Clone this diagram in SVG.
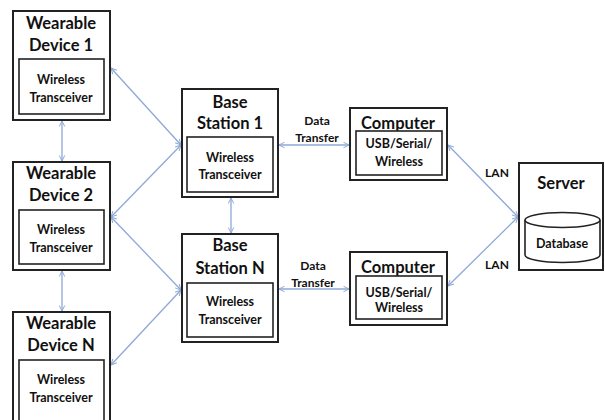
<svg xmlns="http://www.w3.org/2000/svg" width="605" height="420" viewBox="0 0 605 420">
<style>
.outer{fill:#fff;stroke:#222;stroke-width:2}
.inner{fill:#fff;stroke:#222;stroke-width:1.6}
.t{font-family:Lato,"Liberation Sans",sans-serif;font-weight:bold;fill:#111;text-anchor:middle;dominant-baseline:central}
.big{font-size:16.5px}
.sm{font-size:12.5px}
.lbl{font-size:12px}
.conn{stroke:#8ea8d8;stroke-width:1.3;fill:none;marker-start:url(#ah);marker-end:url(#ah)}
</style>
<defs>
<marker id="ah" viewBox="0 0 10 10" refX="9" refY="5" markerWidth="7" markerHeight="7" orient="auto-start-reverse" markerUnits="userSpaceOnUse">
<path d="M1,1 L9,5 L1,9" fill="none" stroke="#8ea8d8" stroke-width="1.4"/>
</marker>
</defs>
<rect width="605" height="420" fill="#fff"/>
<g id="connectors">
<line class="conn" x1="62" y1="121" x2="62" y2="161"/>
<line class="conn" x1="62" y1="271" x2="62" y2="311"/>
<line class="conn" x1="231" y1="198" x2="231" y2="233"/>
<line class="conn" x1="111" y1="68" x2="181" y2="145"/>
<line class="conn" x1="111" y1="217" x2="181" y2="145"/>
<line class="conn" x1="111" y1="217" x2="181" y2="290"/>
<line class="conn" x1="111" y1="365" x2="181" y2="290"/>
<line class="conn" x1="279" y1="145" x2="349" y2="145"/>
<line class="conn" x1="279" y1="289" x2="349" y2="289"/>
<line class="conn" x1="448" y1="145" x2="518" y2="217"/>
<line class="conn" x1="448" y1="286" x2="518" y2="217"/>
<text class="t lbl" x="317" y="120">Data</text>
<text class="t lbl" x="317" y="137">Transfer</text>
<text class="t lbl" x="313" y="265">Data</text>
<text class="t lbl" x="313" y="282">Transfer</text>
<text class="t lbl" x="497" y="172">LAN</text>
<text class="t lbl" x="497" y="264">LAN</text>
</g>
<g id="wearable1">
<rect class="outer" x="13" y="11" width="97" height="109"/>
<text class="t big" x="61" y="23">Wearable</text>
<text class="t big" x="61" y="45">Device 1</text>
<rect class="inner" x="19" y="59" width="85" height="55"/>
<text class="t sm" x="61" y="79">Wireless</text>
<text class="t sm" x="61" y="97">Transceiver</text>
</g>
<g id="wearable2">
<rect class="outer" x="13" y="162" width="97" height="108"/>
<text class="t big" x="61" y="173">Wearable</text>
<text class="t big" x="61" y="195">Device 2</text>
<rect class="inner" x="19" y="210" width="85" height="54"/>
<text class="t sm" x="61" y="229">Wireless</text>
<text class="t sm" x="61" y="247">Transceiver</text>
</g>
<g id="wearableN">
<rect class="outer" x="13" y="312" width="97" height="115"/>
<text class="t big" x="61" y="323">Wearable</text>
<text class="t big" x="61" y="345">Device N</text>
<rect class="inner" x="19" y="360" width="85" height="64"/>
<text class="t sm" x="61" y="379">Wireless</text>
<text class="t sm" x="61" y="397">Transceiver</text>
</g>
<g id="base1">
<rect class="outer" x="182" y="89" width="96" height="108"/>
<text class="t big" x="230" y="102">Base</text>
<text class="t big" x="230" y="123">Station 1</text>
<rect class="inner" x="187" y="137" width="86" height="55"/>
<text class="t sm" x="230" y="157">Wireless</text>
<text class="t sm" x="230" y="174">Transceiver</text>
</g>
<g id="baseN">
<rect class="outer" x="182" y="234" width="96" height="108"/>
<text class="t big" x="230" y="245">Base</text>
<text class="t big" x="230" y="268">Station N</text>
<rect class="inner" x="187" y="283" width="86" height="54"/>
<text class="t sm" x="230" y="301">Wireless</text>
<text class="t sm" x="230" y="319">Transceiver</text>
</g>
<g id="computer1">
<rect class="outer" x="350" y="108" width="97" height="72"/>
<text class="t big" x="398" y="123">Computer</text>
<rect class="inner" x="356" y="131" width="86" height="44"/>
<text class="t sm" x="399" y="143">USB/Serial/</text>
<text class="t sm" x="399" y="161">Wireless</text>
</g>
<g id="computer2">
<rect class="outer" x="350" y="252" width="97" height="73"/>
<text class="t big" x="398" y="267">Computer</text>
<rect class="inner" x="356" y="276" width="86" height="43"/>
<text class="t sm" x="399" y="292">USB/Serial/</text>
<text class="t sm" x="399" y="307">Wireless</text>
</g>
<g id="server">
<rect class="outer" x="519" y="163" width="84" height="107"/>
<text class="t big" x="561" y="183">Server</text>
<path class="inner" d="M525,220 L525,255 A37.5,7.5 0 0 0 600,255 L600,220"/>
<ellipse class="inner" cx="562.5" cy="220" rx="37.5" ry="7.5"/>
<text class="t sm" x="562" y="243">Database</text>
</g>
</svg>
